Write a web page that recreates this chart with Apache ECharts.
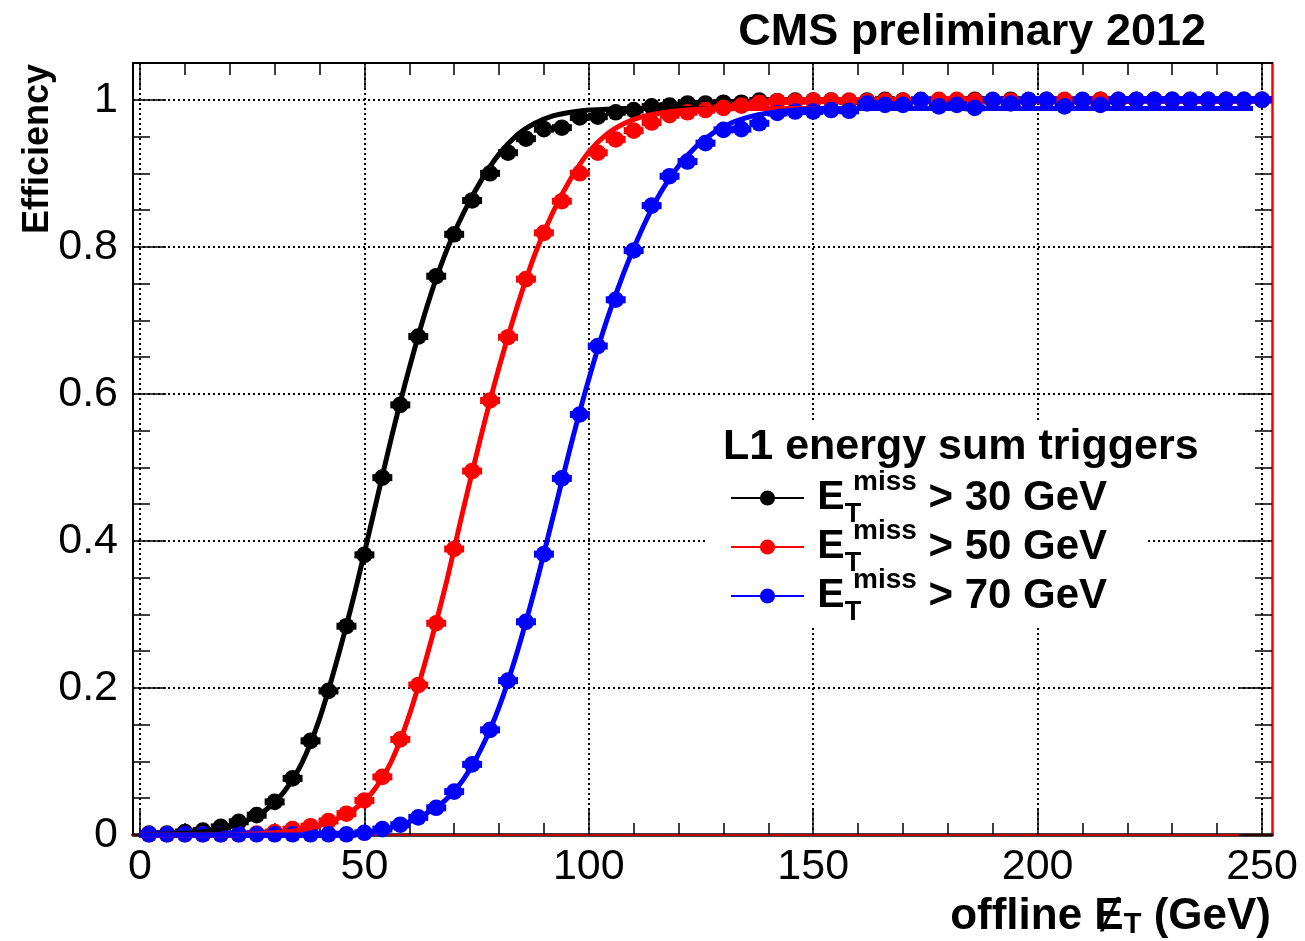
<!DOCTYPE html>
<html><head><meta charset="utf-8">
<script src="https://cdn.jsdelivr.net/npm/echarts@6/dist/echarts.min.js"></script>
<style>html,body{margin:0;padding:0;background:#fff}#c{width:1305px;height:941px}</style>
</head><body><div id="c"></div>
<script>
// ---------------- data ----------------
const binCenters = [2,6,10,14,18,22,26,30,34,38,42,46,50,54,58,62,66,70,74,78,
  82,86,90,94,98,102,106,110,114,118,122,126,130,134,138,142,146,150,154,158,
  162,166,170,174,178,182,186,190,194,198,202,206,210,214,218,222,226,230,234,238,
  242,246,250];
const binHalfWidth = 2;

const effETM30 = [0.002,0.002,0.004,0.006,0.011,0.018,0.027,0.045,0.077,0.128,
  0.196,0.284,0.381,0.486,0.585,0.678,0.760,0.817,0.863,0.900,
  0.928,0.947,0.960,0.962,0.976,0.977,0.983,0.986,0.991,0.992,
  0.995,0.995,0.996,0.996,0.999,0.998,0.999,0.999,0.999,0.998,
  0.999,1.000,0.999,0.999,0.999,0.999,1.000,0.999,1.000,0.999,
  1.000,0.999,0.999,1.000,0.999,1.000,1.000,1.000,0.999,1.000,
  1.000,1.000,1.000];
const effETM50 = [0.001,0.001,0.001,0.001,0.001,0.001,0.002,0.004,0.008,0.012,
  0.019,0.029,0.047,0.079,0.130,0.204,0.288,0.389,0.495,0.591,
  0.677,0.756,0.819,0.862,0.900,0.928,0.946,0.958,0.969,0.979,
  0.983,0.986,0.989,0.992,0.996,0.998,0.998,0.999,0.999,0.999,
  0.998,0.999,0.999,0.999,1.000,1.000,0.999,0.999,0.999,0.999,
  0.999,1.000,0.999,1.000,1.000,0.999,1.000,0.999,1.000,0.999,
  1.000,0.999,1.000];
const effETM70 = [0.001,0.001,0.001,0.001,0.001,0.001,0.001,0.001,0.001,0.001,
  0.001,0.001,0.003,0.008,0.014,0.024,0.037,0.059,0.096,0.143,
  0.210,0.290,0.382,0.485,0.572,0.665,0.728,0.795,0.856,0.896,
  0.916,0.941,0.959,0.960,0.968,0.982,0.984,0.984,0.986,0.985,
  0.995,0.993,0.993,1.000,0.991,0.993,0.989,1.000,0.995,1.000,
  1.000,0.991,1.000,0.993,1.000,1.000,1.000,1.000,1.000,1.000,
  1.000,1.000,1.000];

const fitX = [0,4,8,12,16,20,24,28,32,36,40,44,48,52,56,60,64,68,72,76,
  80,84,88,92,96,100,104,108,112,116,120,124,128,132,136,140,144,148,152,156,
  160,164,168,172,176,180,184,188,192,196,200,204,208,212,216,220,224,228,232,236,
  240,244,248];
const fitETM30 = [0.000,0.001,0.002,0.003,0.006,0.011,0.020,0.034,0.058,0.097,
  0.158,0.240,0.333,0.436,0.540,0.635,0.720,0.790,0.845,0.890,
  0.926,0.952,0.968,0.978,0.983,0.986,0.987,0.988,0.988,0.988,
  0.988,0.988,0.988,0.988,0.988,0.988,0.988,0.988,0.988,0.988,
  0.988,0.988,0.988,0.988,0.988,0.988,0.988,0.988,0.988,0.988,
  0.988,0.988,0.988,0.988,0.988,0.988,0.988,0.988,0.988,0.988,
  0.988,0.988,0.988];
const fitETM50 = [0.000,0.000,0.000,0.000,0.000,0.000,0.001,0.002,0.004,0.007,
  0.013,0.022,0.036,0.060,0.100,0.163,0.245,0.337,0.442,0.543,
  0.636,0.718,0.790,0.847,0.893,0.929,0.953,0.968,0.977,0.982,
  0.985,0.987,0.988,0.988,0.988,0.988,0.988,0.988,0.988,0.988,
  0.988,0.988,0.988,0.988,0.988,0.988,0.988,0.988,0.988,0.988,
  0.988,0.988,0.988,0.988,0.988,0.988,0.988,0.988,0.988,0.988,
  0.988,0.988,0.988];
const fitETM70 = [0.000,0.000,0.000,0.000,0.000,0.000,0.000,0.000,0.000,0.000,
  0.000,0.001,0.002,0.005,0.010,0.018,0.030,0.047,0.075,0.117,
  0.174,0.248,0.335,0.432,0.530,0.620,0.700,0.768,0.826,0.874,
  0.910,0.937,0.956,0.969,0.977,0.982,0.985,0.987,0.988,0.988,
  0.988,0.988,0.988,0.988,0.988,0.988,0.988,0.988,0.988,0.988,
  0.988,0.988,0.988,0.988,0.988,0.988,0.988,0.988,0.988,0.988,
  0.988,0.988,0.988];

const seriesNames = ['ETmiss > 30 GeV', 'ETmiss > 50 GeV', 'ETmiss > 70 GeV'];
const thresholdTexts = ['> 30 GeV', '> 50 GeV', '> 70 GeV'];
const seriesColors = ['#000000', '#ff0000', '#0000ff'];
const effSets = [effETM30, effETM50, effETM70];
const fitSets = [fitETM30, fitETM50, fitETM70];

const xMin = 0, xMax = 250, xInterval = 50;
const yMin = 0, yMax = 1, yInterval = 0.2, yDataMax = 1.05;

const titleText = 'CMS preliminary 2012';
const legendTitle = 'L1 energy sum triggers';
const yTitle = 'Efficiency';

// ---------------- chart ----------------
const FONT = '"Liberation Sans", Arial, Helvetica, sans-serif';
const chart = echarts.init(document.getElementById('c'), null, {renderer: 'canvas'});

const dotted = {color: '#000', width: 2, type: [2, 3]};

function pointRenderer(color) {
  return function (params, api) {
    const x = api.value(0), y = api.value(1);
    const c = api.coord([x, y]);
    const l = api.coord([x - binHalfWidth, y]);
    const r = api.coord([x + binHalfWidth, y]);
    return {
      type: 'group',
      children: [
        {type: 'rect', shape: {x: l[0] - 1, y: c[1] - 3.5, width: r[0] - l[0] + 2, height: 7}, style: {fill: color}},
        {type: 'circle', shape: {cx: c[0], cy: c[1], r: 8.3}, style: {fill: color}}
      ]
    };
  };
}

const series = [];
for (let i = 0; i < 3; i++) {
  series.push({
    name: seriesNames[i], type: 'line', xAxisIndex: 0, yAxisIndex: 0,
    data: fitX.map((x, k) => [x, fitSets[i][k]]),
    showSymbol: false, symbol: 'circle', symbolSize: 14,
    smooth: 0.25,
    lineStyle: {color: seriesColors[i], width: 5},
    itemStyle: {color: seriesColors[i]},
    silent: true, clip: false
  });
  series.push({
    name: seriesNames[i], type: 'custom', xAxisIndex: 0, yAxisIndex: 0,
    data: binCenters.map((x, k) => [x, effSets[i][k]]),
    encode: {x: 0, y: 1},
    renderItem: pointRenderer(seriesColors[i]),
    itemStyle: {color: seriesColors[i]},
    silent: true, clip: false
  });
}

const labelStyle = {fontFamily: FONT, fontSize: 43, color: '#000'};
function frameAxis(grid, pos, color, width) {
  return {gridIndex: grid, type: 'value', position: pos, min: 0, max: 1,
    axisLine: {show: true, onZero: false, lineStyle: {color: color, width: width}},
    axisTick: {show: false}, axisLabel: {show: false}, splitLine: {show: false}};
}

const option = {
  animation: false,
  backgroundColor: '#fff',
  grid: [
    {left: 140, right: 43, top: 63, bottom: 106},          // data / x ticks
    {left: 133, right: 33, top: 99.76, bottom: 106},        // y ticks
    {left: 133, right: 33, top: 63, bottom: 106}            // frame
  ],
  xAxis: [
    {gridIndex: 0, type: 'value', position: 'bottom', min: xMin, max: xMax, interval: xInterval,
      axisLine: {show: false, onZero: false},
      axisTick: {show: true, inside: true, length: 25, lineStyle: {color: '#000', width: 1.5}},
      minorTick: {show: true, splitNumber: 5, length: 12, lineStyle: {color: '#000', width: 1.5}},
      axisLabel: Object.assign({margin: 11}, labelStyle),
      splitLine: {show: true, lineStyle: dotted}},
    {gridIndex: 0, type: 'value', position: 'top', min: xMin, max: xMax, interval: xInterval,
      axisLine: {show: false, onZero: false},
      axisTick: {show: true, inside: true, length: 25, lineStyle: {color: '#000', width: 1.5}},
      minorTick: {show: true, splitNumber: 5, length: 12, lineStyle: {color: '#000', width: 1.5}},
      axisLabel: {show: false}, splitLine: {show: false}},
    {gridIndex: 1, type: 'value', show: false, min: xMin, max: xMax},
    frameAxis(2, 'bottom', '#000', 3.5),
    frameAxis(2, 'top', '#000', 2),
    frameAxis(2, 'bottom', '#ff0000', 1.5)
  ],
  yAxis: [
    {gridIndex: 0, type: 'value', show: false, min: yMin, max: yDataMax},
    {gridIndex: 1, type: 'value', position: 'left', min: yMin, max: yMax, interval: yInterval,
      axisLine: {show: false, onZero: false},
      axisTick: {show: true, inside: true, length: 33, lineStyle: {color: '#000', width: 1.5}},
      minorTick: {show: true, splitNumber: 4, length: 17, lineStyle: {color: '#000', width: 1.5}},
      axisLabel: Object.assign({margin: 15}, labelStyle),
      splitLine: {show: true, lineStyle: dotted}},
    {gridIndex: 1, type: 'value', position: 'right', min: yMin, max: yMax, interval: yInterval,
      axisLine: {show: false, onZero: false},
      axisTick: {show: true, inside: true, length: 33, lineStyle: {color: '#000', width: 1.5}},
      minorTick: {show: true, splitNumber: 4, length: 17, lineStyle: {color: '#000', width: 1.5}},
      axisLabel: {show: false}, splitLine: {show: false}},
    frameAxis(2, 'left', '#000', 2),
    frameAxis(2, 'right', '#ff0000', 2.5)
  ],
  legend: {
    data: seriesNames, orient: 'vertical', left: 705, top: 423,
    padding: [45, 41, 0, 25], backgroundColor: '#fff',
    itemWidth: 73, itemHeight: 19, itemGap: -11, selectedMode: false,
    lineStyle: {width: 2},
    formatter: function (name) {
      const i = seriesNames.indexOf(name);
      return '{e|E}{t|T}{m|miss}{v| ' + thresholdTexts[i] + '}';
    },
    textStyle: {
      color: '#000', fontFamily: FONT, fontWeight: 'bold',
      rich: {
        e: {fontFamily: FONT, fontWeight: 'bold', fontSize: 41, lineHeight: 44, width: 44, align: 'right', color: '#000'},
        t: {fontFamily: FONT, fontWeight: 'bold', fontSize: 27, lineHeight: 27, width: 0, padding: [33, 0, 0, 0], color: '#000'},
        m: {fontFamily: FONT, fontWeight: 'bold', fontSize: 28, lineHeight: 28, padding: [0, 0, 32, 0], color: '#000'},
        v: {fontFamily: FONT, fontWeight: 'bold', fontSize: 42, lineHeight: 44, color: '#000'}
      }
    }
  },
  graphic: [
    {type: 'text', x: 1206, y: 33, z: 10, style: {text: titleText, fontFamily: FONT, fontWeight: 'bold', fontSize: 45, fill: '#000', align: 'right', verticalAlign: 'middle'}},
    {type: 'text', x: 723, y: 447, z: 10, style: {text: legendTitle, fontFamily: FONT, fontWeight: 'bold', fontSize: 43, fill: '#000', align: 'left', verticalAlign: 'middle'}},
    {type: 'text', x: 38.5, y: 64, z: 10, rotation: Math.PI / 2, style: {text: yTitle, fontFamily: FONT, fontWeight: 'bold', fontSize: 36, fill: '#000', align: 'right', verticalAlign: 'middle'}},
    {type: 'text', x: 1271, y: 917, z: 10, style: {
      text: '{a|offline Ɇ}{s|T}{a| (GeV)}', align: 'right', verticalAlign: 'middle',
      rich: {
        a: {fontFamily: FONT, fontWeight: 'bold', fontSize: 44, lineHeight: 44, fill: '#000', color: '#000'},
        s: {fontFamily: FONT, fontWeight: 'bold', fontSize: 29, lineHeight: 29, verticalAlign: 'bottom', fill: '#000', color: '#000'}
      }}}
  ],
  series: series
};
chart.setOption(option);
</script>
</body></html>
